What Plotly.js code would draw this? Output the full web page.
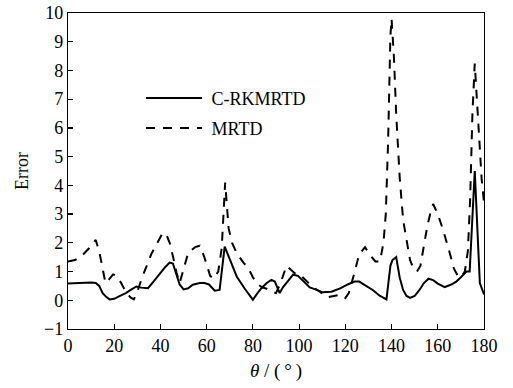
<!DOCTYPE html>
<html>
<head>
<meta charset="utf-8">
<script src="https://cdn.plot.ly/plotly-3.0.1.min.js"></script>
<style>html,body{margin:0;padding:0;background:#fff;}#chart{width:513px;height:388px;}</style>
</head>
<body>
<div id="chart"></div>
<script>
// C-RKMRTD (solid)
const thetaC = [0, 5, 10, 12, 13.5, 15, 16.5, 18, 20, 22.5, 25, 27.5, 29.6, 31.7, 34.6, 37, 39.7, 42, 44, 45.4, 46.5, 48.3, 50, 52, 54, 57, 59, 61, 63.5, 65.6, 67.8, 70, 73, 76.5, 80, 82, 83.7, 86, 88, 89.5, 91.6, 93, 94.5, 97.4, 99.5, 102, 104.6, 107, 110, 114, 118, 121, 124, 126, 129, 132, 135, 137.8, 139.5, 140.4, 142, 143.5, 145, 146.5, 148, 150, 152, 154, 156, 158, 160, 163, 166, 168, 170, 172.4, 173.8, 176, 178.2, 180];
const errC = [0.58, 0.6, 0.62, 0.6, 0.5, 0.25, 0.12, 0.03, 0.05, 0.15, 0.25, 0.38, 0.48, 0.44, 0.42, 0.65, 0.94, 1.15, 1.31, 1.28, 1.0, 0.55, 0.38, 0.42, 0.54, 0.6, 0.6, 0.55, 0.33, 0.36, 1.87, 1.4, 0.83, 0.4, 0.02, 0.25, 0.42, 0.6, 0.71, 0.65, 0.25, 0.45, 0.6, 0.89, 0.85, 0.65, 0.45, 0.38, 0.28, 0.3, 0.42, 0.55, 0.65, 0.65, 0.5, 0.35, 0.15, 0.03, 1.2, 1.4, 1.5, 0.8, 0.36, 0.15, 0.08, 0.15, 0.35, 0.6, 0.75, 0.7, 0.58, 0.46, 0.55, 0.65, 0.8, 1.0, 1.0, 4.5, 0.6, 0.2];

// MRTD (dashed)
const thetaM = [0, 3, 6, 9, 12, 13.5, 14.5, 15.5, 16.2, 17.5, 19.5, 21, 23, 25, 27, 28.5, 30, 32, 34, 36, 38, 41, 42.5, 44, 45.5, 47, 48.3, 50, 52, 55, 57, 59, 61.5, 63, 65, 66.5, 68, 69.5, 71, 73, 76, 78, 80, 82.2, 84, 86, 88, 90, 92, 94.5, 96, 98, 100, 103, 106, 109, 112, 115, 118, 120, 121.5, 123.5, 126, 128.5, 130.5, 133, 135, 136.5, 137.5, 138.5, 139.5, 140, 141, 142, 143.5, 145, 146.4, 148, 149.5, 151, 152.5, 154, 155.5, 157, 158, 160, 162.3, 165.2, 167, 168.8, 170, 171.7, 173, 174, 175, 176, 177, 178.2, 179, 180];
const errM = [1.35, 1.4, 1.55, 1.8, 2.1, 1.7, 1.3, 0.8, 0.6, 0.7, 0.9, 0.85, 0.6, 0.3, 0.1, 0.03, 0.3, 0.78, 1.2, 1.6, 1.9, 2.35, 2.3, 2.0, 1.5, 0.95, 0.6, 1.1, 1.65, 1.85, 1.9, 1.5, 0.85, 0.75, 1.0, 1.8, 4.1, 2.5, 2.0, 1.64, 1.3, 1.12, 0.8, 0.55, 0.45, 0.4, 0.3, 0.25, 0.6, 1.2, 1.1, 0.95, 0.92, 0.7, 0.45, 0.3, 0.1, 0.15, 0.2, 0.08, 0.25, 0.83, 1.6, 1.85, 1.6, 1.35, 1.35, 2.0, 3.0, 5.5, 9.2, 9.8, 8.5, 6.5, 4.3, 2.8, 2.1, 1.4, 1.1, 1.0, 1.2, 1.9, 2.6, 3.1, 3.35, 3.0, 2.45, 1.64, 1.1, 0.83, 0.8, 1.0, 1.7, 3.5, 6.5, 8.24, 7.0, 5.2, 4.2, 3.4];

const xTicks = [0, 20, 40, 60, 80, 100, 120, 140, 160, 180];
const yTicks = [-1, 0, 1, 2, 3, 4, 5, 6, 7, 8, 9, 10];
const names = ['C-RKMRTD', 'MRTD'];

const FONT = 'Liberation Serif, Times New Roman, serif';

const traces = [
  {x: thetaC, y: errC, name: '\u00a0' + names[0], type: 'scatter', mode: 'lines',
   line: {color: '#000', width: 2, shape: 'linear'}, legend: 'legend'},
  {x: thetaM, y: errM, name: '\u00a0' + names[1], type: 'scatter', mode: 'lines',
   line: {color: '#000', width: 2, dash: '9px,8px'}, legend: 'legend2'}
];

const axisCommon = {
  showgrid: false, zeroline: false, showline: true, mirror: true,
  linecolor: '#000', linewidth: 1.2, ticks: 'inside', ticklen: 5,
  tickcolor: '#000', tickwidth: 1.2,
  tickfont: {family: FONT, size: 18, color: '#000'}
};

const layout = {
  width: 513, height: 388,
  margin: {l: 68, r: 29, t: 13, b: 59},
  paper_bgcolor: '#fff', plot_bgcolor: '#fff',
  font: {family: FONT, color: '#000'},
  showlegend: true,
  xaxis: Object.assign({}, axisCommon, {
    range: [0, 180], tickvals: xTicks, ticktext: xTicks.map(String),
    title: {text: '<i>θ</i> / (\u2009°\u2009)', font: {family: FONT, size: 19, color: '#000'}, standoff: 9}
  }),
  yaxis: Object.assign({}, axisCommon, {
    range: [-1, 10], tickvals: yTicks, ticktext: yTicks.map(v => v < 0 ? '\u2212' + Math.abs(v) : String(v)),
    title: {text: 'Error', font: {family: FONT, size: 18, color: '#000'}, standoff: 10}
  }),
  legend: {x: 0.1755, y: 0.73, xanchor: 'left', yanchor: 'middle', bgcolor: 'rgba(0,0,0,0)',
           borderwidth: 0, itemwidth: 56, font: {family: FONT, size: 18, color: '#000'}},
  legend2: {x: 0.1755, y: 0.635, xanchor: 'left', yanchor: 'middle', bgcolor: 'rgba(0,0,0,0)',
           borderwidth: 0, itemwidth: 56, font: {family: FONT, size: 18, color: '#000'}}
};

Plotly.newPlot('chart', traces, layout, {staticPlot: true, displayModeBar: false});
</script>
</body>
</html>
